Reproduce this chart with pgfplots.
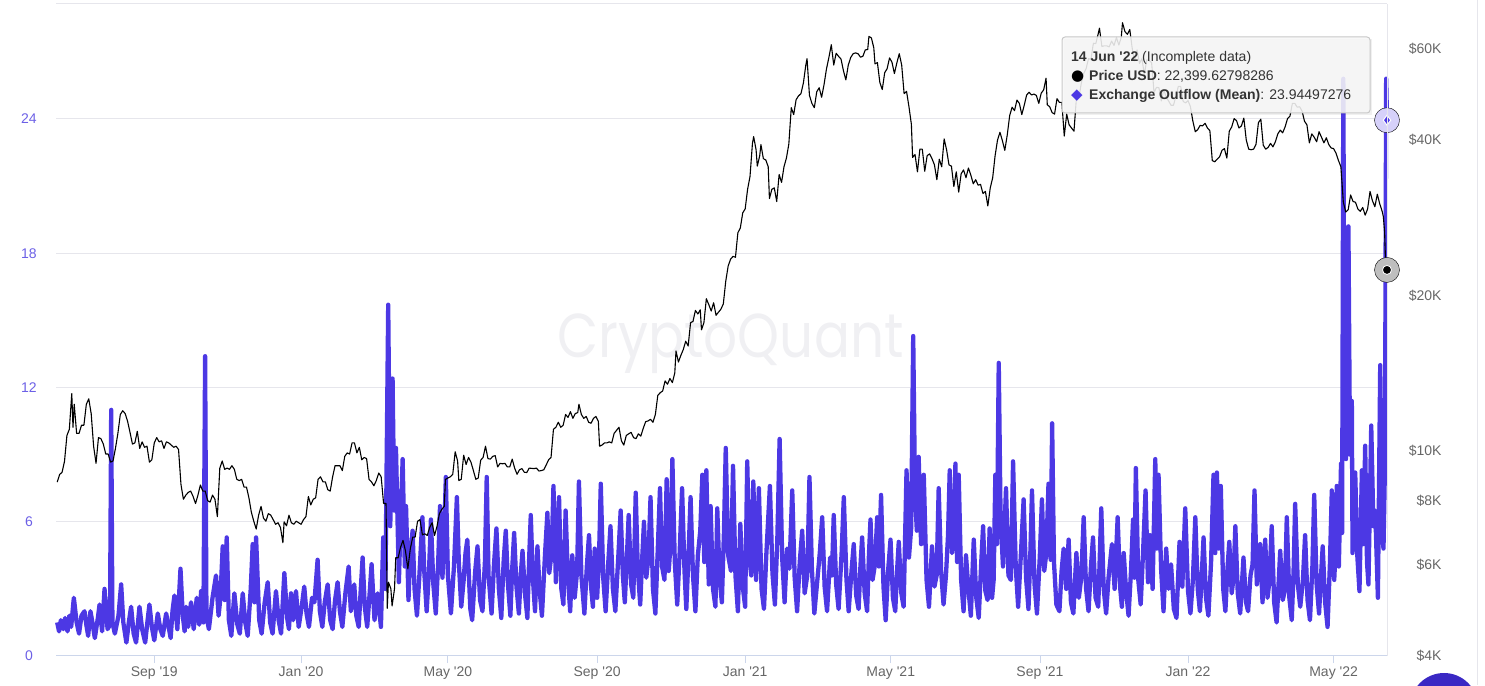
\documentclass[border=0pt]{standalone}
\usepackage{pgfplots}
\usepackage{pgfplotstable}
\pgfplotsset{compat=1.18}
\usepackage{fontspec}
\setmainfont{Liberation Sans}
\newfontfamily\dejavu{DejaVu Sans}
\newfontfamily\wmfont{Poppins}
\definecolor{outflow}{RGB}{76,56,228}
\definecolor{lefttick}{RGB}{108,96,230}
\definecolor{ticktext}{RGB}{102,102,102}
\definecolor{gridc}{RGB}{230,230,236}
\definecolor{basec}{RGB}{204,214,235}
\definecolor{wm}{RGB}{240,240,243}
\definecolor{ttc}{RGB}{51,51,51}
\definecolor{chat}{RGB}{58,40,196}
\definecolor{halop}{RGB}{214,209,250}
\definecolor{halok}{RGB}{190,190,190}
\newcommand{\ap}{\textquotesingle}

\pgfplotstableread{
d v
0 1.5
1.5 1.1
3 1.6
5 1.2
6.5 1.7
8.5 1.1
10 1.8
11.5 1.3
13.7 2.6
16 1.5
18 1.0
20 1.8
22.5 2.0
24 1.4
25.5 0.9
27.4 2.0
29 1.5
31 0.8
33.5 1.7
34.9 2.3
37 1.1
39 3.0
41.5 1.2
43.5 1.4
44.5 11.0
45.5 1.5
47.5 1.0
50.5 1.8
52.7 3.2
54.5 1.5
57 0.6
59 1.5
60.9 2.2
63 1.0
65 0.6
67.8 2.2
70 1.2
72.5 0.6
74.5 1.6
76 2.3
78 1.3
80 0.7
82.9 1.9
85 1.2
87 0.9
89.8 1.9
91.5 1.4
93.5 0.8
95 2.0
96.6 2.7
99 1.2
101.6 3.9
103.5 1.8
105 1.1
106.2 2.2
108 1.3
110.3 2.4
112.5 1.2
115 2.6
117 1.4
118.6 2.9
120.5 1.5
121.9 13.4
123 1.8
125 1.2
128 2.6
130.9 3.6
133 1.8
134.5 2.6
136.4 4.9
138 2.5
139.7 5.3
141.5 1.6
143.5 0.9
146 2.8
148.5 1.4
150.5 1.0
152.9 2.8
155 1.5
157 0.9
159.5 3.0
161.1 5.0
162.5 2.4
163.9 5.3
166.5 1.6
168.5 1.0
171 2.4
173.5 3.3
175.5 1.5
177.5 1.0
180.3 2.9
182.5 1.6
184.5 1.0
187.2 3.7
189.5 1.7
191 1.2
192.7 2.8
194.5 1.6
196.8 2.9
199 1.3
201.5 2.2
203.6 3.1
205.5 1.9
207.5 1.3
210 2.6
212 2.4
214.6 4.3
216.5 2.0
218.5 1.3
220.5 2.4
222.9 3.2
225 1.6
227 1.2
229 2.5
231.1 3.3
233 2.0
235 1.3
237.5 2.8
240.2 4.0
242 2.0
244.8 3.2
246.5 1.8
248.5 1.3
250 2.8
251.7 4.4
253.5 2.2
255.5 1.3
257.5 2.8
259.1 4.1
261.5 1.6
264.1 2.8
266.8 1.3
268.7 5.3
270.5 3.0
272.8 15.7
274.5 5.8
276.4 12.4
277.8 6.5
279.2 9.3
281.6 3.3
283 6.0
284.7 8.8
286.5 4.0
287.5 6.7
289.5 2.5
291 4.5
292.9 5.6
294.5 3.0
296.5 1.8
298.5 3.6
301 6.2
302.5 3.8
304.5 2.0
306.5 3.9
308 6.1
310 3.2
312 1.9
314 4.2
315.5 6.7
317.5 3.5
318.8 5.0
320.3 8.0
322 3.6
324.5 1.9
327 4.0
329.4 7.1
331 4.2
333 2.2
335 3.4
336.5 4.6
338 5.2
340.5 2.1
342 1.6
344.5 3.8
346.4 4.9
348.5 2.5
350.5 2.0
352.5 4.2
354 8.0
355.5 3.6
358 1.9
360 4.1
362 5.7
364 3.0
366 1.7
368 4.3
369.7 5.6
371.5 3.2
373.5 1.8
375 3.9
376.6 5.5
378.5 3.1
380.5 1.9
382 3.6
383.5 4.7
385.5 2.8
387.5 1.7
389 4.4
390.3 6.3
392 3.5
393.8 2.0
395.8 4.9
397.5 3.0
399.5 1.8
402 4.5
404 6.4
405.5 3.7
407.5 4.6
409 7.6
411 3.3
412.3 5.2
413.6 7.1
415.5 3.0
417.2 2.3
419 6.5
421 3.4
422.8 2.0
424.5 4.5
426.5 2.6
428.5 3.8
430 7.8
432 3.6
434.5 1.9
436.5 4.0
438.3 5.4
440 3.1
441.5 2.2
443 4.8
445 2.6
446.5 4.3
448 7.7
450 3.5
452 2.0
454.2 4.2
456 5.8
458 3.0
460 2.0
462.5 4.5
464.4 6.5
466.2 3.6
467.8 2.4
469.5 4.4
471 6.3
473 3.2
474.8 2.6
476.8 7.3
478.5 3.9
480.5 2.3
482 4.2
483.6 6.0
485.5 3.5
487.3 4.4
489 7.1
491 3.0
493 1.9
495 4.8
496.8 7.5
498.5 4.0
500.5 3.4
502.3 7.9
504 3.8
505.5 5.0
507 8.8
509 4.2
511 2.3
513 4.6
515 7.5
517 3.8
518.5 2.1
520.5 4.8
522 7.1
524 3.6
526 2.0
528 4.5
530 5.6
531.7 8.1
533.3 4.2
535 8.3
537 3.2
538.5 6.7
540.5 3.0
542.5 2.2
544 6.6
546 3.4
547.8 2.4
549.5 5.5
551 9.3
553 4.5
555.3 3.8
557 8.5
559 3.6
561 2.0
563 5.9
565 3.1
567 2.2
568.7 8.7
570.5 4.4
572 3.6
573.7 7.8
576 3.4
578.3 7.5
580.5 3.0
582.5 2.1
584.5 4.6
587.4 7.6
589.5 3.7
591.5 2.3
593.5 5.2
595.4 9.7
597.5 4.4
599.5 2.4
601.5 4.8
603.5 3.9
605.8 7.4
607.8 3.5
609.8 2.0
612 4.2
614 5.6
616 2.8
618.2 3.6
620 8.0
622 3.9
624 1.9
626.5 3.4
628.5 4.6
630.5 6.2
632.5 3.1
634.5 2.0
637 4.4
638.5 3.6
640 6.3
642 3.2
644 2.1
646.5 4.6
648.3 7.1
650.5 3.4
652.3 2.0
654.8 3.9
656.5 5.0
658.5 2.7
660.5 2.1
662 4.0
663.4 5.3
665.5 2.8
667.5 2.0
669 4.5
670.3 6.1
672 3.4
674 4.1
675.8 6.2
677.2 4.0
679 7.2
681 3.1
682.8 1.6
684.8 3.8
686.8 5.2
688.8 2.6
690.7 2.0
692.3 3.9
693.6 5.1
695.7 2.8
697.6 2.2
700 8.3
702 4.4
703.8 5.7
705.5 14.3
707 7.2
708.5 5.6
710 8.9
712 5.0
714.2 8.1
716.5 3.4
718.5 2.2
721 4.9
723 3.1
724.8 3.6
726.5 7.5
728.5 3.8
730.5 2.3
732.5 3.6
734.2 5.4
735.6 8.3
737.5 4.6
739 5.2
740.3 8.6
741.7 4.2
743 8.1
745 3.4
747 2.0
749 4.5
751 3.0
753 1.8
755.4 5.2
757.5 2.6
759.5 1.7
761.5 4.1
763.1 5.8
765 2.9
766.8 2.5
768.5 5.7
770.5 2.6
771.8 3.4
773.2 8.1
774.5 5.0
776 13.1
777.5 6.2
779.5 4.0
782 7.5
784 3.6
786 3.4
787.8 8.7
790 4.0
792 2.2
794.5 4.8
796.5 7.0
798.5 3.5
800.5 2.1
802 4.5
803.4 7.4
805.5 3.2
807.5 1.9
809.8 4.4
811.6 7.0
813.5 3.8
815.2 4.6
817 7.7
818.8 4.3
820 10.4
821.5 4.2
823.5 2.3
826 2.0
827.8 3.8
829.5 4.8
831.6 3.0
833.6 5.2
835.5 2.4
837.5 1.9
840 4.6
842 2.6
844 3.5
846 6.2
848 3.0
850 2.0
852 4.0
853.7 5.3
855.8 2.6
858 2.2
860.5 6.6
862.5 3.0
864.5 1.9
866.5 3.5
869.3 5.0
871.5 3.0
874 6.2
876 3.1
877.5 2.2
879 4.6
881 2.9
883 1.8
885 3.8
886.7 6.1
887.8 3.5
889 8.4
891 3.4
893 2.3
895 4.7
897 7.4
899 3.3
900.7 5.4
902.8 3.0
905 8.8
906.3 4.8
907.7 8.1
909.8 3.9
911.8 2.0
914 4.8
916 3.0
918 4.1
920.3 2.1
922.5 1.7
925 5.1
927.3 3.1
929.7 6.6
932 2.9
934 1.9
936 3.4
938 6.2
940 3.0
941.8 2.0
943.3 3.6
944.8 5.3
946.8 2.6
948.8 1.8
951 4.2
953 8.1
954.4 4.6
955.8 8.2
957.4 4.8
959 7.6
961 3.0
962.8 2.0
964.5 3.9
966 5.1
968 2.8
969.5 3.5
971 5.8
973 2.8
975 1.9
977.7 4.4
979.8 2.4
981.5 2.0
983.5 3.6
985.2 4.1
986.8 7.4
988.7 3.2
990 3.8
991.4 5.0
993.4 2.4
995.6 5.2
997.5 2.6
999 3.3
1001 5.8
1003 2.4
1005 1.5
1006.5 3.1
1008 4.7
1010 2.5
1011.8 2.9
1013.4 6.2
1015.5 2.6
1017.5 1.6
1019 3.8
1020.3 6.8
1022.5 3.2
1024.5 2.2
1026.7 3.4
1028.5 5.4
1030.5 2.5
1032.5 1.6
1034.5 4.0
1036 7.2
1038 3.2
1040 1.9
1041.5 3.5
1043 4.9
1045 2.4
1047 1.3
1049 4.2
1050.5 7.4
1052.5 3.4
1053.5 4.6
1054.6 7.6
1056.3 4.0
1058.1 8.6
1059 5.5
1060 25.8
1061 10.5
1062.2 8.8
1064.2 19.2
1065.5 9.0
1067 11.4
1067.6 4.6
1069.8 8.2
1071.5 4.5
1073.3 2.9
1075.3 8.3
1076.5 5.0
1078 9.4
1079.5 4.2
1080.7 3.2
1083 10.3
1084.8 5.8
1086.3 6.5
1088.5 2.6
1090.4 13.0
1092 5.5
1093.1 4.8
1094.3 8.5
1095.3 25.8
1096 23.94497276
}\outflowtable

\pgfplotstableread{
d p
0 8690
2 8990
4 9080
6 9530
8 10700
10 11000
12 12900
13 11100
14 12300
16 10800
18 10800
20 11200
22 11200
24 12300
26 12600
28 11800
30 10200
32 9450
34 10600
36 10550
38 10300
40 9850
42 9850
44 9500
46 9550
48 10100
50 10800
52 11750
54 11950
56 11800
58 11400
60 10850
62 10300
64 10350
66 10900
68 10100
70 10400
72 10150
74 10200
76 9500
78 9600
80 10350
82 10600
84 10400
86 10450
88 10100
90 10400
92 10350
94 10250
96 10150
98 10200
100 10050
102 8600
104 8050
106 8200
108 8300
110 8350
112 8150
114 7900
116 8200
118 8580
120 8350
122 8350
124 8000
126 7950
128 8200
130 8050
132 7450
134 9250
136 9550
138 9200
140 9250
142 9200
144 9350
146 9200
148 8800
150 8750
152 8800
154 8500
156 8500
158 8100
160 7600
162 7300
164 7050
166 7500
168 7800
170 7400
172 7300
174 7550
176 7500
178 7350
180 7200
182 7250
184 7100
186 6630
187 7280
189 7150
191 7500
193 7250
195 7200
197 7300
199 7250
201 7200
203 7350
205 7450
207 8150
209 7850
211 8050
213 8100
215 8800
217 8900
219 8700
221 8700
223 8400
225 8350
227 8900
229 9350
231 9350
233 9350
235 9150
237 9750
239 9900
241 9850
243 10350
245 10350
247 9900
249 10150
251 9600
253 9700
255 9650
257 8800
259 8700
261 8550
263 8750
265 9050
267 8900
269 7900
271 7900
272 4950
273 5560
275 5400
276 5000
278 5400
279 6200
281 6200
283 6500
285 6700
287 6400
289 5900
291 6450
293 6800
295 6800
297 7300
299 7350
301 6870
303 6900
305 6850
307 7100
309 7250
311 6850
313 7130
315 7550
317 7700
319 7800
320 8800
322 8850
324 8900
326 9000
328 9950
330 9550
331 8750
333 8800
335 9800
337 9400
339 9700
341 9500
343 9150
345 8800
347 8850
349 9580
351 9700
353 10200
355 9650
357 9630
359 9750
361 9780
363 9300
365 9450
367 9430
369 9450
371 9300
373 9300
375 9630
377 9250
379 9000
381 9180
383 9230
385 9080
387 9070
389 9250
391 9240
393 9230
395 9250
397 9130
399 9150
401 9180
403 9380
405 9600
407 9700
409 11000
411 11100
413 11350
415 11100
417 11200
419 11750
421 11600
423 11900
425 11550
427 11800
429 11850
430 12300
432 11750
434 11550
436 11650
438 11350
440 11300
442 11550
444 11650
446 11400
447 10200
449 10250
451 10350
453 10350
455 10400
457 10350
459 10800
461 10950
463 11100
465 10450
467 10250
469 10700
471 10780
473 10850
475 10600
477 10550
479 10780
481 10670
483 11050
485 11380
487 11420
489 11500
491 11350
493 11750
495 12800
497 12950
499 13050
501 13650
503 13450
505 13800
507 13550
509 14150
510 15600
512 14850
514 15300
516 15700
518 16300
520 15950
522 17700
524 17800
526 18700
528 18400
530 18750
531 17150
533 17700
535 19700
537 19200
539 18650
541 19350
543 18300
545 18550
547 18800
549 19250
551 21300
553 22800
555 23500
557 23800
559 23700
561 26450
563 27000
565 28900
567 29400
569 32100
571 34000
573 39400
574 40600
576 38300
577 35600
579 37300
580 39200
582 36800
584 36600
586 35500
587 30800
589 32100
591 32300
593 30400
595 34300
597 33100
599 35500
601 36900
603 39300
605 46200
607 44800
609 47900
611 48700
613 49200
615 51600
617 55900
618 57500
620 48800
622 47100
624 46200
626 49600
628 50500
630 48400
632 51200
634 54900
636 57800
638 61200
640 55900
642 58900
644 58100
646 57400
648 54500
650 52300
652 55900
654 57800
656 58800
658 59000
660 58800
662 57900
664 58100
666 59800
668 59900
669 63500
671 63100
673 60400
674 56200
676 56500
678 51700
680 50100
682 54000
684 55000
686 57700
688 56600
690 53800
692 56400
694 58800
696 55900
698 49200
700 49700
702 46400
704 42900
705 37000
707 37500
709 34700
711 38400
713 38400
715 34800
717 37300
719 37600
721 36800
723 35800
725 33500
727 36700
729 35500
731 40200
733 38300
735 35800
737 35600
739 32500
741 34700
743 31700
745 34400
747 35000
749 33800
751 35300
753 34200
755 32900
757 33500
759 32700
761 32800
763 31500
765 31800
767 29800
769 32300
771 33800
773 37300
775 40000
777 41400
779 39900
781 38200
783 40900
785 44600
787 46300
789 45600
791 47800
793 47100
795 44800
797 46700
799 48900
801 49500
803 48900
805 49100
807 48800
809 47100
811 49300
813 50000
815 52700
816 46800
818 46400
820 45200
822 44900
824 48100
826 47300
828 47300
830 40700
832 44900
834 42800
836 42200
838 41600
840 48200
842 48200
844 51500
846 53800
848 55000
850 57500
852 57300
854 61600
856 61500
858 64300
859 65900
861 60700
863 60900
865 60900
867 60600
869 62200
871 61000
873 63200
875 61100
877 63300
878 67500
880 64900
882 64100
884 65500
886 60200
888 56900
890 59800
892 56300
894 57500
896 53600
898 57200
900 57000
902 56500
904 49400
906 50600
908 50500
910 47600
912 50100
914 48400
916 47600
918 46700
920 46700
922 48600
924 50800
926 50800
928 47500
930 47200
932 47700
934 46400
936 43500
938 41500
940 41900
942 42700
944 42600
946 43100
948 42200
950 41700
952 36500
954 36300
956 36700
958 37100
960 38200
962 38500
964 36900
966 41600
968 42400
970 44000
972 43600
974 42200
976 42600
978 44100
980 40000
982 38400
984 38300
986 38400
988 39200
990 43200
992 43900
994 39100
996 38400
998 38700
1000 39400
1002 38800
1004 39700
1006 41100
1008 41800
1010 41300
1012 42400
1014 44000
1016 44500
1018 47100
1020 47100
1022 46300
1024 46400
1026 45500
1028 43500
1030 42800
1032 39500
1034 41100
1036 40500
1038 39700
1040 41500
1042 40500
1044 39500
1046 40400
1048 39200
1050 38600
1052 38500
1054 37700
1056 36500
1058 35500
1060 30300
1062 29000
1064 29300
1066 31300
1068 30400
1070 30300
1072 29400
1074 29100
1076 29600
1078 28600
1080 29400
1082 31800
1084 30500
1086 29700
1088 31400
1090 30100
1092 29100
1093 28400
1094 26600
1095 22500
1096 22399.63
}\pricetable

\begin{document}
\begin{tikzpicture}[x=1pt,y=1pt]
\path[use as bounding box] (0,0) rectangle (1485,685);
\begin{scope}
\clip (0,0) rectangle (1485,685);
\fill[chat] (1444,-22) circle (34);
\end{scope}
\draw[gridc, line width=1pt] (1477,0) -- (1477,685);
\node[wm, font=\wmfont\fontsize{62}{62}\selectfont, anchor=base, inner sep=0pt] at (730.5,327) {\scalebox{0.86}[1]{CryptoQuant}};

\begin{axis}[
  at={(56pt,29pt)}, anchor=south west, scale only axis,
  width=1331pt, height=652pt,
  xmin=-1, xmax=1096, ymin=0, ymax=29.14,
  axis y line*=left, axis x line*=bottom,
  y axis line style={opacity=0},
  x axis line style={basec, line width=1pt, -},
  xtick={80,201,322,445,567,687,810,932,1052},
  xticklabels={Sep \ap19, Jan \ap20, May \ap20, Sep \ap20, Jan \ap21, May \ap21, Sep \ap21, Jan \ap22, May \ap22},
  tick align=outside,
  x tick style={basec, line width=1pt},
  major tick length=7pt,
  ytick={0,6,12,18,24},
  yticklabels={0,6,12,18,24},
  y tick style={draw=none},
  ymajorgrids, grid style={gridc, line width=1pt},
  xticklabel style={ticktext, font=\fontsize{14}{16}\selectfont},
  yticklabel style={lefttick, font=\fontsize{14}{16}\selectfont, anchor=center, xshift=-20pt},
  clip=false,
]
\addplot[outflow, line width=4.3pt, line join=round] table[x=d, y=v] {\outflowtable};
\addplot[only marks, mark=*, mark size=12.5pt, mark options={draw=none, fill=halop}] coordinates {(1096,23.94497276)};
\addplot[only marks, mark=diamond*, mark size=5pt, mark options={fill=outflow, draw=white, line width=1pt}] coordinates {(1096,23.94497276)};
\end{axis}

\begin{axis}[
  at={(56pt,29pt)}, anchor=south west, scale only axis,
  width=1331pt, height=652pt,
  xmin=-1, xmax=1096, ymode=log, ymin=4000, ymax=73400,
  axis x line=none, axis y line*=right,
  y axis line style={gridc, line width=1pt, -},
  ytick={4000,6000,8000,10000,20000,40000,60000},
  yticklabels={\$4K,\$6K,\$8K,\$10K,\$20K,\$40K,\$60K},
  y tick style={draw=none},
  yticklabel style={ticktext, font=\fontsize{14}{16}\selectfont, anchor=east, xshift=58pt},
  clip=false,
]
\addplot[black, line width=1.1pt, line join=round] table[x=d, y=p] {\pricetable};
\addplot[only marks, mark=*, mark size=12.5pt, mark options={draw=none, fill=halok}] coordinates {(1096,22399.63)};
\addplot[only marks, mark=*, mark size=4.5pt, mark options={fill=black, draw=white, line width=0.8pt}] coordinates {(1096,22399.63)};
\end{axis}

\draw[gridc, line width=1pt] (56,681) -- (1387,681);

% tooltip
\fill[black, opacity=0.06] (1064,570) rectangle (1372,646);
\draw[rounded corners=3pt, draw={rgb,255:red,200;green,200;blue,200}, fill={rgb,255:red,247;green,247;blue,247}, fill opacity=0.88, line width=1pt] (1062,572) rectangle (1370,648);
\begin{scope}[every node/.style={anchor=base west, inner sep=0pt, text=ttc, font=\fontsize{14}{16}\selectfont}]
\node at (1071,623) {\textbf{14 Jun \ap22} (Incomplete data)};
\node at (1089,604) {\textbf{Price USD}: 22,399.62798286};
\node at (1089,585) {\textbf{Exchange Outflow (Mean)}: 23.94497276};
\node[text=black, font=\dejavu\fontsize{15}{16}\selectfont] at (1071,604) {●};
\node[text=outflow, font=\dejavu\fontsize{15}{16}\selectfont] at (1071,585) {◆};
\end{scope}
\end{tikzpicture}
\end{document}
